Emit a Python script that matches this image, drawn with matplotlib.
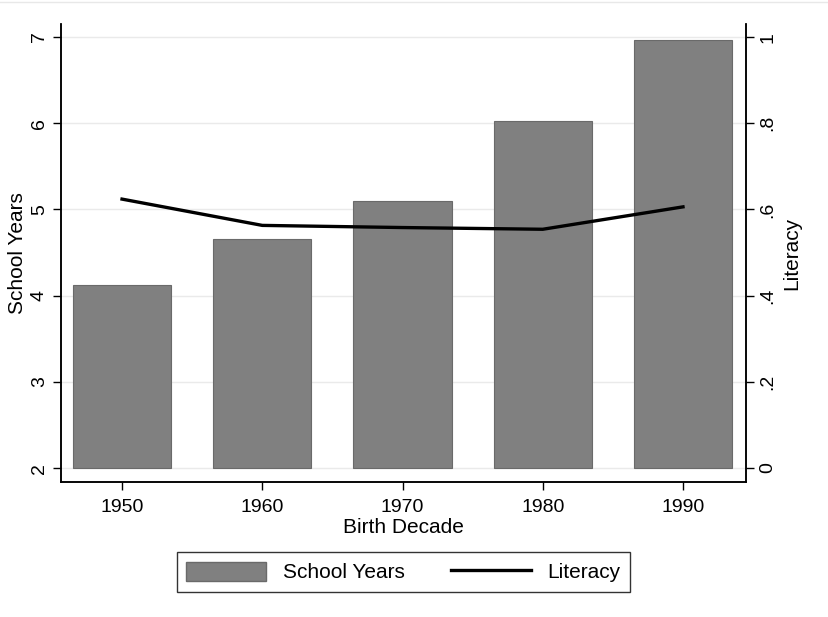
import matplotlib.pyplot as plt
from matplotlib.patches import Patch
from matplotlib.lines import Line2D

# values
decades = [1950, 1960, 1970, 1980, 1990]
school_years = [4.13, 4.66, 5.10, 6.03, 6.97]
literacy = [0.624, 0.563, 0.558, 0.554, 0.606]

plt.rcParams['font.family'] = ['Liberation Sans', 'DejaVu Sans']

fig = plt.figure(figsize=(8.29, 6.17), dpi=100)
ax = fig.add_axes([0.0736, 0.2188, 0.8264, 0.7422])
ax2 = ax.twinx()

# faint border line at the very top of the image
fig.add_artist(Line2D([0, 1], [0.996, 0.996], transform=fig.transFigure,
                      color='#e8e8e8', linewidth=1))

# bars start at 2 (bottom of the left axis)
heights = [v - 2 for v in school_years]
ax.bar(decades, heights, bottom=2, width=7, color='#808080',
       edgecolor='#6a6a6a', linewidth=0.8, zorder=2)
ax2.plot(decades, literacy, color='black', linewidth=2.4, zorder=3)

ax.set_xlim(1945.65, 1994.5)
ax.set_ylim(1.84, 7.15)
ax2.set_ylim(-0.0325, 1.0302)

ax.set_xticks(decades)
ax.set_yticks([2, 3, 4, 5, 6, 7])
ax2.set_yticks([0, 0.2, 0.4, 0.6, 0.8, 1])
ax2.set_yticklabels(['0', '.2', '.4', '.6', '.8', '1'])

ax.grid(axis='y', color='#eaeaea', linewidth=1, zorder=0)
ax.set_axisbelow(True)

for a in (ax, ax2):
    a.spines['top'].set_visible(False)
    for s in ('left', 'right', 'bottom'):
        a.spines[s].set_linewidth(1.1)
    a.tick_params(direction='out', length=6, width=1, labelsize=14, colors='black')
ax.tick_params(axis='x', pad=6)

for lbl in ax.get_yticklabels() + ax2.get_yticklabels():
    lbl.set_rotation(90)
    lbl.set_va('center')

ax.set_xlabel('Birth Decade', fontsize=15, labelpad=2)
ax.set_ylabel('School Years', fontsize=15, labelpad=3)
ax2.set_ylabel('Literacy', fontsize=15, rotation=90, labelpad=4)

handles = [Patch(facecolor='#808080', edgecolor='#6a6a6a', label='School Years'),
           Line2D([0], [0], color='black', linewidth=2.4, label='Literacy')]
leg = fig.legend(handles=handles, loc='center', bbox_to_anchor=(0.4867, 0.073),
                 ncol=2, fontsize=15, frameon=True, fancybox=False,
                 edgecolor='black', handlelength=3.85, handleheight=1.05,
                 columnspacing=2.2, borderpad=0.45)
leg.get_frame().set_linewidth(1)

fig.savefig('out.png', dpi=100)
